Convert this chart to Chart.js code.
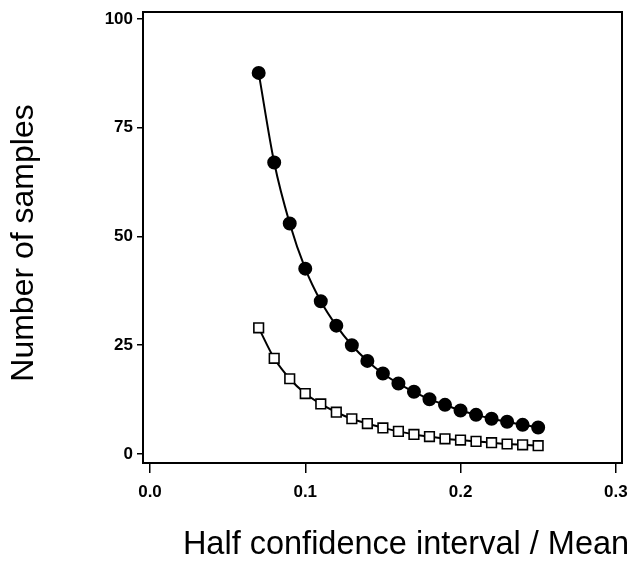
<!DOCTYPE html>
<html>
<head>
<meta charset="utf-8">
<script src="https://cdn.jsdelivr.net/npm/chart.js@4/dist/chart.umd.min.js"></script>
<style>
	body { margin: 0; background: #fff; }
</style>
</head>
<body>
<canvas id="chart" width="631" height="583"></canvas>
<script>
const xValues = [0.07, 0.08, 0.09, 0.10, 0.11, 0.12, 0.13, 0.14, 0.15, 0.16, 0.17, 0.18, 0.19, 0.20, 0.21, 0.22, 0.23, 0.24, 0.25];
const filledSeries = [87.6, 67.0, 53.0, 42.6, 35.1, 29.5, 25.0, 21.4, 18.5, 16.2, 14.3, 12.6, 11.3, 10.0, 9.0, 8.1, 7.4, 6.7, 6.1];
const openSeries = [29.0, 22.0, 17.3, 13.9, 11.5, 9.6, 8.1, 7.0, 6.0, 5.2, 4.5, 4.0, 3.5, 3.2, 2.9, 2.6, 2.3, 2.1, 1.9];
const xTicks = [0.0, 0.1, 0.2, 0.3];
const yTicks = [0, 25, 50, 75, 100];
const xTitle = "Half confidence interval / Mean";
const yTitle = "Number of samples";

const fontFamily = "'Liberation Sans', Arial, Helvetica, sans-serif";

function toPoints(ys) {
	return ys.map((y, i) => ({ x: xValues[i], y: y }));
}

// frame round the plot and the two axis titles
const framePlugin = {
	id: "frame",
	afterDraw(chart) {
		const ctx = chart.ctx;
		const a = chart.chartArea;
		ctx.save();
		ctx.strokeStyle = "#000";
		ctx.lineWidth = 2;
		ctx.strokeRect(a.left, a.top, a.right - a.left, a.bottom - a.top);

		ctx.fillStyle = "#000";
		ctx.font = "32.5px " + fontFamily;
		ctx.textAlign = "center";
		ctx.textBaseline = "alphabetic";
		ctx.fillText(xTitle, 406, 554);

		ctx.translate(33, 243);
		ctx.rotate(-Math.PI / 2);
		ctx.font = "32px " + fontFamily;
		ctx.fillText(yTitle, 0, 0);
		ctx.restore();
	},
};

const ctx = document.getElementById("chart").getContext("2d");
const chart = new Chart(ctx, {
	type: "line",
	data: {
		datasets: [
			{
				data: toPoints(filledSeries),
				borderColor: "#000",
				borderWidth: 2,
				backgroundColor: "#000",
				pointBackgroundColor: "#000",
				pointBorderColor: "#000",
				pointStyle: "circle",
				pointRadius: 6,
				cubicInterpolationMode: "monotone",
				fill: false,
			},
			{
				data: toPoints(openSeries),
				borderColor: "#000",
				borderWidth: 2,
				backgroundColor: "#fff",
				pointBackgroundColor: "#fff",
				pointBorderColor: "#000",
				pointBorderWidth: 1.6,
				pointStyle: "rect",
				pointRadius: 6.8,
				cubicInterpolationMode: "monotone",
				fill: false,
			},
		],
	},
	options: {
		responsive: false,
		animation: false,
		layout: {
			padding: { left: 60, right: 9, top: 12, bottom: 0 },
		},
		plugins: {
			legend: { display: false },
			tooltip: { enabled: false },
		},
		scales: {
			x: {
				type: "linear",
				min: -0.0045,
				max: 0.304,
				afterBuildTicks: (scale) => {
					scale.ticks = xTicks.map((v) => ({ value: v }));
				},
				afterFit: (scale) => {
					scale.height = 120;
					scale.paddingLeft = 0;
					scale.paddingRight = 0;
				},
				border: { display: false },
				grid: {
					drawOnChartArea: false,
					drawTicks: true,
					tickLength: 10,
					color: "#000",
					lineWidth: 1.5,
				},
				ticks: {
					padding: 9,
					color: "#000",
					font: { family: fontFamily, size: 17, weight: "bold" },
					callback: (v) => v.toFixed(1),
				},
			},
			y: {
				type: "linear",
				min: -2.07,
				max: 101.6,
				afterBuildTicks: (scale) => {
					scale.ticks = yTicks.map((v) => ({ value: v }));
				},
				afterFit: (scale) => {
					scale.width = 83;
					scale.paddingTop = 0;
					scale.paddingBottom = 0;
				},
				border: { display: false },
				grid: {
					drawOnChartArea: false,
					drawTicks: true,
					tickLength: 6,
					color: "#000",
					lineWidth: 1.5,
				},
				ticks: {
					padding: 4,
					color: "#000",
					font: { family: fontFamily, size: 17, weight: "bold" },
					callback: (v) => String(v),
				},
			},
		},
	},
	plugins: [framePlugin],
});
</script>
</body>
</html>
